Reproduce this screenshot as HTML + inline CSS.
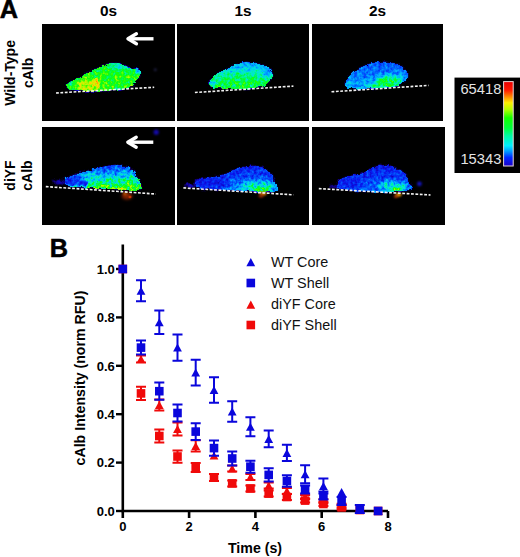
<!DOCTYPE html>
<html><head><meta charset="utf-8"><style>
html,body{margin:0;padding:0;background:#fff;width:520px;height:557px;overflow:hidden;}
svg{display:block;}
text{font-family:"Liberation Sans",sans-serif;}
.tk{font-size:13px;font-weight:bold;fill:#000;}
.ax{font-size:14.2px;font-weight:bold;fill:#000;}
.lg{font-size:14.4px;fill:#111;}
.hd{font-size:15.4px;font-weight:bold;fill:#000;}
.rl{font-size:14px;font-weight:bold;fill:#000;}
.big{font-size:25.3px;font-weight:bold;fill:#000;stroke:#000;stroke-width:0.5px;}
.cb{font-size:14.7px;fill:#e4e4e4;}
</style></head><body>
<svg width="520" height="557" viewBox="0 0 520 557">
<rect width="520" height="557" fill="#fff"/>
<text x="-0.3" y="17.6" class="big">A</text>
<text x="49.8" y="256.6" class="big">B</text>
<text x="108.5" y="16.2" text-anchor="middle" class="hd">0s</text>
<text x="243" y="16.2" text-anchor="middle" class="hd">1s</text>
<text x="377.5" y="16.2" text-anchor="middle" class="hd">2s</text>
<text transform="translate(14.6 72.9) rotate(-90)" text-anchor="middle" class="rl">Wild-Type</text>
<text transform="translate(32.6 72.9) rotate(-90)" text-anchor="middle" class="rl">cAlb</text>
<text transform="translate(14.5 175.5) rotate(-90)" text-anchor="middle" class="rl">diYF</text>
<text transform="translate(32.4 175.5) rotate(-90)" text-anchor="middle" class="rl">cAlb</text>
<rect x="42" y="24" width="132.1" height="96.5" fill="#000"/>
<rect x="177" y="24" width="131.8" height="96.5" fill="#000"/>
<rect x="312.1" y="24" width="130.9" height="96.5" fill="#000"/>
<rect x="42" y="127" width="133" height="97.5" fill="#000"/>
<rect x="177.3" y="127" width="131.5" height="97.5" fill="#000"/>
<rect x="312.1" y="127" width="132.5" height="97.5" fill="#000"/>
<filter id="b1" x="-20%" y="-50%" width="140%" height="200%"><feGaussianBlur stdDeviation="0.3"/></filter>
<filter id="fA1" filterUnits="userSpaceOnUse" x="42" y="24" width="132.1" height="96.5" color-interpolation-filters="sRGB">
<feTurbulence type="fractalNoise" baseFrequency="0.18" numOctaves="2" seed="23" result="dt"/>
<feDisplacementMap in="SourceGraphic" in2="dt" scale="4" xChannelSelector="R" yChannelSelector="G" result="src"/>
<feTurbulence type="fractalNoise" baseFrequency="0.33" numOctaves="2" seed="3" result="t"/>
<feColorMatrix in="t" type="matrix" values="1 0 0 0 0 1 0 0 0 0 1 0 0 0 0 0 0 0 0 1" result="n"/>
<feComposite in="src" in2="n" operator="arithmetic" k1="0.6" k2="0.7" k3="0" k4="0" result="m"/>
<feComponentTransfer in="m"><feFuncR type="table" tableValues="0.000 0.000 0.000 0.020 0.052 0.076 0.064 0.051 0.039 0.027 0.015 0.002 0.000 0.000 0.000 0.000 0.000 0.000 0.000 0.000 0.000 0.004 0.024 0.069 0.216 0.363 0.518 0.675 0.779 0.871 0.963 1.000 1.000 1.000 1.000 1.000 1.000 1.000 1.000 1.000 1.000"/><feFuncG type="table" tableValues="0.000 0.000 0.000 0.000 0.000 0.005 0.029 0.054 0.078 0.164 0.250 0.336 0.441 0.551 0.662 0.746 0.814 0.881 0.929 0.947 0.966 0.982 0.992 1.000 1.000 1.000 0.992 0.982 0.951 0.914 0.877 0.804 0.706 0.608 0.510 0.429 0.359 0.289 0.218 0.148 0.078"/><feFuncB type="table" tableValues="0.000 0.000 0.000 0.147 0.392 0.609 0.713 0.817 0.922 0.946 0.971 0.995 1.000 1.000 1.000 0.967 0.912 0.857 0.760 0.600 0.441 0.286 0.149 0.036 0.020 0.003 0.000 0.000 0.000 0.000 0.000 0.000 0.000 0.000 0.000 0.000 0.000 0.000 0.000 0.000 0.000"/><feFuncA type="linear" slope="0" intercept="1"/></feComponentTransfer>
<feGaussianBlur stdDeviation="0.6"/>
</filter>
<linearGradient id="gA1" gradientUnits="userSpaceOnUse" x1="0" y1="63" x2="0" y2="91"><stop offset="0.000" stop-color="rgb(142,142,142)"/><stop offset="1.000" stop-color="rgb(147,147,147)"/></linearGradient>
<clipPath id="cA1"><path d="M65.8 85.4 C66.2 84.6 68.1 83.6 70.1 82.5 C72.1 81.4 75.2 80.0 77.8 78.6 C80.4 77.2 82.9 75.7 85.5 74.3 C88.1 72.9 90.2 71.4 93.2 70.0 C96.2 68.6 100.4 67.1 103.4 66.0 C106.4 64.9 108.5 63.7 111.0 63.3 C113.5 62.9 116.1 63.0 118.7 63.5 C121.3 64.0 124.3 65.2 126.4 66.2 C128.5 67.2 129.9 68.9 131.5 69.3 C133.1 69.7 134.7 68.3 136.0 68.6 C137.3 68.9 138.9 69.8 139.5 71.0 C140.1 72.2 139.9 74.3 139.5 76.0 C139.1 77.7 138.2 79.4 137.0 81.0 C135.8 82.6 134.2 84.1 132.0 85.5 C129.8 86.9 127.7 88.7 124.0 89.6 C120.3 90.5 115.1 90.7 110.0 91.0 C104.9 91.3 99.0 91.3 93.2 91.2 C87.4 91.1 79.5 90.8 75.2 90.2 C70.9 89.6 69.2 88.4 67.6 87.6 C66.0 86.8 65.4 86.2 65.8 85.4Z"/></clipPath>
<g filter="url(#fA1)"><rect x="42" y="24" width="132.1" height="96.5" fill="#000"/>
<path d="M65.8 85.4 C66.2 84.6 68.1 83.6 70.1 82.5 C72.1 81.4 75.2 80.0 77.8 78.6 C80.4 77.2 82.9 75.7 85.5 74.3 C88.1 72.9 90.2 71.4 93.2 70.0 C96.2 68.6 100.4 67.1 103.4 66.0 C106.4 64.9 108.5 63.7 111.0 63.3 C113.5 62.9 116.1 63.0 118.7 63.5 C121.3 64.0 124.3 65.2 126.4 66.2 C128.5 67.2 129.9 68.9 131.5 69.3 C133.1 69.7 134.7 68.3 136.0 68.6 C137.3 68.9 138.9 69.8 139.5 71.0 C140.1 72.2 139.9 74.3 139.5 76.0 C139.1 77.7 138.2 79.4 137.0 81.0 C135.8 82.6 134.2 84.1 132.0 85.5 C129.8 86.9 127.7 88.7 124.0 89.6 C120.3 90.5 115.1 90.7 110.0 91.0 C104.9 91.3 99.0 91.3 93.2 91.2 C87.4 91.1 79.5 90.8 75.2 90.2 C70.9 89.6 69.2 88.4 67.6 87.6 C66.0 86.8 65.4 86.2 65.8 85.4Z" fill="rgb(33,33,33)" stroke="rgb(33,33,33)" stroke-width="2" style="filter:blur(1.6px)"/>
<path d="M65.8 85.4 C66.2 84.6 68.1 83.6 70.1 82.5 C72.1 81.4 75.2 80.0 77.8 78.6 C80.4 77.2 82.9 75.7 85.5 74.3 C88.1 72.9 90.2 71.4 93.2 70.0 C96.2 68.6 100.4 67.1 103.4 66.0 C106.4 64.9 108.5 63.7 111.0 63.3 C113.5 62.9 116.1 63.0 118.7 63.5 C121.3 64.0 124.3 65.2 126.4 66.2 C128.5 67.2 129.9 68.9 131.5 69.3 C133.1 69.7 134.7 68.3 136.0 68.6 C137.3 68.9 138.9 69.8 139.5 71.0 C140.1 72.2 139.9 74.3 139.5 76.0 C139.1 77.7 138.2 79.4 137.0 81.0 C135.8 82.6 134.2 84.1 132.0 85.5 C129.8 86.9 127.7 88.7 124.0 89.6 C120.3 90.5 115.1 90.7 110.0 91.0 C104.9 91.3 99.0 91.3 93.2 91.2 C87.4 91.1 79.5 90.8 75.2 90.2 C70.9 89.6 69.2 88.4 67.6 87.6 C66.0 86.8 65.4 86.2 65.8 85.4Z" fill="url(#gA1)" shape-rendering="crispEdges"/>
<g clip-path="url(#cA1)">
<ellipse cx="124" cy="66" rx="15" ry="3.5" fill="rgb(112,112,112)" style="filter:blur(2px)"/>
<ellipse cx="138" cy="71" rx="2.5" ry="2.5" fill="rgb(82,82,82)" style="filter:blur(1.2px)"/>
<ellipse cx="90" cy="85.5" rx="12" ry="4.5" fill="rgb(184,184,184)" style="filter:blur(2.5px)"/>
<ellipse cx="95.5" cy="81.5" rx="2" ry="2.5" fill="rgb(230,230,230)" style="filter:blur(1px)"/>
<ellipse cx="80" cy="87" rx="6" ry="2.5" fill="rgb(178,178,178)" style="filter:blur(2px)"/>
<ellipse cx="120" cy="90" rx="5" ry="1.5" fill="rgb(107,107,107)" style="filter:blur(1px)"/>
<ellipse cx="70" cy="83" rx="4" ry="3" fill="rgb(128,128,128)" style="filter:blur(1.5px)"/>
</g>
</g>
<filter id="fA2" filterUnits="userSpaceOnUse" x="177" y="24" width="131.8" height="96.5" color-interpolation-filters="sRGB">
<feTurbulence type="fractalNoise" baseFrequency="0.18" numOctaves="2" seed="27" result="dt"/>
<feDisplacementMap in="SourceGraphic" in2="dt" scale="4" xChannelSelector="R" yChannelSelector="G" result="src"/>
<feTurbulence type="fractalNoise" baseFrequency="0.33" numOctaves="2" seed="7" result="t"/>
<feColorMatrix in="t" type="matrix" values="1 0 0 0 0 1 0 0 0 0 1 0 0 0 0 0 0 0 0 1" result="n"/>
<feComposite in="src" in2="n" operator="arithmetic" k1="0.7" k2="0.65" k3="0" k4="0" result="m"/>
<feComponentTransfer in="m"><feFuncR type="table" tableValues="0.000 0.000 0.000 0.020 0.052 0.076 0.064 0.051 0.039 0.027 0.015 0.002 0.000 0.000 0.000 0.000 0.000 0.000 0.000 0.000 0.000 0.004 0.024 0.069 0.216 0.363 0.518 0.675 0.779 0.871 0.963 1.000 1.000 1.000 1.000 1.000 1.000 1.000 1.000 1.000 1.000"/><feFuncG type="table" tableValues="0.000 0.000 0.000 0.000 0.000 0.005 0.029 0.054 0.078 0.164 0.250 0.336 0.441 0.551 0.662 0.746 0.814 0.881 0.929 0.947 0.966 0.982 0.992 1.000 1.000 1.000 0.992 0.982 0.951 0.914 0.877 0.804 0.706 0.608 0.510 0.429 0.359 0.289 0.218 0.148 0.078"/><feFuncB type="table" tableValues="0.000 0.000 0.000 0.147 0.392 0.609 0.713 0.817 0.922 0.946 0.971 0.995 1.000 1.000 1.000 0.967 0.912 0.857 0.760 0.600 0.441 0.286 0.149 0.036 0.020 0.003 0.000 0.000 0.000 0.000 0.000 0.000 0.000 0.000 0.000 0.000 0.000 0.000 0.000 0.000 0.000"/><feFuncA type="linear" slope="0" intercept="1"/></feComponentTransfer>
<feGaussianBlur stdDeviation="0.6"/>
</filter>
<linearGradient id="gA2" gradientUnits="userSpaceOnUse" x1="0" y1="62" x2="0" y2="88"><stop offset="0.000" stop-color="rgb(84,84,84)"/><stop offset="0.308" stop-color="rgb(105,105,105)"/><stop offset="0.692" stop-color="rgb(128,128,128)"/><stop offset="1.000" stop-color="rgb(143,143,143)"/></linearGradient>
<clipPath id="cA2"><path d="M208.5 84.2 C208.5 82.9 210.6 80.8 212.3 79.0 C214.0 77.2 216.2 75.2 218.5 73.5 C220.8 71.8 223.4 70.2 226.2 68.8 C229.0 67.4 232.3 66.1 235.4 65.0 C238.5 63.9 241.5 62.6 244.6 62.2 C247.7 61.8 250.7 62.0 253.8 62.5 C256.9 63.0 260.8 64.8 263.1 65.5 C265.4 66.2 266.3 65.8 267.7 66.8 C269.1 67.8 270.6 69.8 271.5 71.5 C272.4 73.2 273.3 75.5 272.8 77.3 C272.3 79.0 270.4 80.4 268.5 82.0 C266.6 83.6 265.2 85.7 261.5 86.8 C257.8 87.9 252.6 88.5 246.2 88.8 C239.8 89.1 228.8 88.9 223.1 88.6 C217.4 88.3 214.7 87.7 212.3 87.0 C209.9 86.3 208.5 85.5 208.5 84.2Z"/></clipPath>
<g filter="url(#fA2)"><rect x="177" y="24" width="131.8" height="96.5" fill="#000"/>
<path d="M208.5 84.2 C208.5 82.9 210.6 80.8 212.3 79.0 C214.0 77.2 216.2 75.2 218.5 73.5 C220.8 71.8 223.4 70.2 226.2 68.8 C229.0 67.4 232.3 66.1 235.4 65.0 C238.5 63.9 241.5 62.6 244.6 62.2 C247.7 61.8 250.7 62.0 253.8 62.5 C256.9 63.0 260.8 64.8 263.1 65.5 C265.4 66.2 266.3 65.8 267.7 66.8 C269.1 67.8 270.6 69.8 271.5 71.5 C272.4 73.2 273.3 75.5 272.8 77.3 C272.3 79.0 270.4 80.4 268.5 82.0 C266.6 83.6 265.2 85.7 261.5 86.8 C257.8 87.9 252.6 88.5 246.2 88.8 C239.8 89.1 228.8 88.9 223.1 88.6 C217.4 88.3 214.7 87.7 212.3 87.0 C209.9 86.3 208.5 85.5 208.5 84.2Z" fill="rgb(33,33,33)" stroke="rgb(33,33,33)" stroke-width="2" style="filter:blur(1.6px)"/>
<path d="M208.5 84.2 C208.5 82.9 210.6 80.8 212.3 79.0 C214.0 77.2 216.2 75.2 218.5 73.5 C220.8 71.8 223.4 70.2 226.2 68.8 C229.0 67.4 232.3 66.1 235.4 65.0 C238.5 63.9 241.5 62.6 244.6 62.2 C247.7 61.8 250.7 62.0 253.8 62.5 C256.9 63.0 260.8 64.8 263.1 65.5 C265.4 66.2 266.3 65.8 267.7 66.8 C269.1 67.8 270.6 69.8 271.5 71.5 C272.4 73.2 273.3 75.5 272.8 77.3 C272.3 79.0 270.4 80.4 268.5 82.0 C266.6 83.6 265.2 85.7 261.5 86.8 C257.8 87.9 252.6 88.5 246.2 88.8 C239.8 89.1 228.8 88.9 223.1 88.6 C217.4 88.3 214.7 87.7 212.3 87.0 C209.9 86.3 208.5 85.5 208.5 84.2Z" fill="url(#gA2)" shape-rendering="crispEdges"/>
<g clip-path="url(#cA2)">
<ellipse cx="243" cy="82" rx="22" ry="6" fill="rgb(135,135,135)" style="filter:blur(3px)"/>
<ellipse cx="213" cy="83" rx="5" ry="3" fill="rgb(107,107,107)" style="filter:blur(1.5px)"/>
<ellipse cx="268" cy="72" rx="4" ry="5" fill="rgb(82,82,82)" style="filter:blur(2px)"/>
</g>
</g>
<filter id="fA3" filterUnits="userSpaceOnUse" x="312.1" y="24" width="130.9" height="96.5" color-interpolation-filters="sRGB">
<feTurbulence type="fractalNoise" baseFrequency="0.18" numOctaves="2" seed="31" result="dt"/>
<feDisplacementMap in="SourceGraphic" in2="dt" scale="4" xChannelSelector="R" yChannelSelector="G" result="src"/>
<feTurbulence type="fractalNoise" baseFrequency="0.33" numOctaves="2" seed="11" result="t"/>
<feColorMatrix in="t" type="matrix" values="1 0 0 0 0 1 0 0 0 0 1 0 0 0 0 0 0 0 0 1" result="n"/>
<feComposite in="src" in2="n" operator="arithmetic" k1="0.75" k2="0.625" k3="0" k4="0" result="m"/>
<feComponentTransfer in="m"><feFuncR type="table" tableValues="0.000 0.000 0.000 0.020 0.052 0.076 0.064 0.051 0.039 0.027 0.015 0.002 0.000 0.000 0.000 0.000 0.000 0.000 0.000 0.000 0.000 0.004 0.024 0.069 0.216 0.363 0.518 0.675 0.779 0.871 0.963 1.000 1.000 1.000 1.000 1.000 1.000 1.000 1.000 1.000 1.000"/><feFuncG type="table" tableValues="0.000 0.000 0.000 0.000 0.000 0.005 0.029 0.054 0.078 0.164 0.250 0.336 0.441 0.551 0.662 0.746 0.814 0.881 0.929 0.947 0.966 0.982 0.992 1.000 1.000 1.000 0.992 0.982 0.951 0.914 0.877 0.804 0.706 0.608 0.510 0.429 0.359 0.289 0.218 0.148 0.078"/><feFuncB type="table" tableValues="0.000 0.000 0.000 0.147 0.392 0.609 0.713 0.817 0.922 0.946 0.971 0.995 1.000 1.000 1.000 0.967 0.912 0.857 0.760 0.600 0.441 0.286 0.149 0.036 0.020 0.003 0.000 0.000 0.000 0.000 0.000 0.000 0.000 0.000 0.000 0.000 0.000 0.000 0.000 0.000 0.000"/><feFuncA type="linear" slope="0" intercept="1"/></feComponentTransfer>
<feGaussianBlur stdDeviation="0.6"/>
</filter>
<linearGradient id="gA3" gradientUnits="userSpaceOnUse" x1="0" y1="62" x2="0" y2="88"><stop offset="0.000" stop-color="rgb(69,69,69)"/><stop offset="0.500" stop-color="rgb(79,79,79)"/><stop offset="1.000" stop-color="rgb(92,92,92)"/></linearGradient>
<clipPath id="cA3"><path d="M345.0 82.7 C345.4 81.0 347.1 78.4 348.8 76.5 C350.5 74.6 352.7 72.9 355.0 71.2 C357.3 69.5 359.9 67.8 362.7 66.5 C365.5 65.2 368.8 64.3 371.9 63.5 C375.0 62.7 378.1 62.1 381.2 61.9 C384.3 61.7 387.3 61.9 390.4 62.4 C393.5 62.9 397.2 63.8 399.6 65.0 C402.0 66.2 403.7 67.9 405.0 69.6 C406.3 71.3 407.2 73.2 407.3 75.0 C407.4 76.8 406.8 78.9 405.8 80.4 C404.8 81.9 403.2 83.1 401.2 84.2 C399.1 85.3 398.1 86.1 393.5 86.8 C388.9 87.5 380.2 88.1 373.5 88.4 C366.8 88.7 358.0 88.7 353.5 88.4 C349.0 88.1 347.9 87.8 346.5 86.8 C345.1 85.8 344.6 84.4 345.0 82.7Z"/></clipPath>
<g filter="url(#fA3)"><rect x="312.1" y="24" width="130.9" height="96.5" fill="#000"/>
<path d="M345.0 82.7 C345.4 81.0 347.1 78.4 348.8 76.5 C350.5 74.6 352.7 72.9 355.0 71.2 C357.3 69.5 359.9 67.8 362.7 66.5 C365.5 65.2 368.8 64.3 371.9 63.5 C375.0 62.7 378.1 62.1 381.2 61.9 C384.3 61.7 387.3 61.9 390.4 62.4 C393.5 62.9 397.2 63.8 399.6 65.0 C402.0 66.2 403.7 67.9 405.0 69.6 C406.3 71.3 407.2 73.2 407.3 75.0 C407.4 76.8 406.8 78.9 405.8 80.4 C404.8 81.9 403.2 83.1 401.2 84.2 C399.1 85.3 398.1 86.1 393.5 86.8 C388.9 87.5 380.2 88.1 373.5 88.4 C366.8 88.7 358.0 88.7 353.5 88.4 C349.0 88.1 347.9 87.8 346.5 86.8 C345.1 85.8 344.6 84.4 345.0 82.7Z" fill="rgb(33,33,33)" stroke="rgb(33,33,33)" stroke-width="2" style="filter:blur(1.6px)"/>
<path d="M345.0 82.7 C345.4 81.0 347.1 78.4 348.8 76.5 C350.5 74.6 352.7 72.9 355.0 71.2 C357.3 69.5 359.9 67.8 362.7 66.5 C365.5 65.2 368.8 64.3 371.9 63.5 C375.0 62.7 378.1 62.1 381.2 61.9 C384.3 61.7 387.3 61.9 390.4 62.4 C393.5 62.9 397.2 63.8 399.6 65.0 C402.0 66.2 403.7 67.9 405.0 69.6 C406.3 71.3 407.2 73.2 407.3 75.0 C407.4 76.8 406.8 78.9 405.8 80.4 C404.8 81.9 403.2 83.1 401.2 84.2 C399.1 85.3 398.1 86.1 393.5 86.8 C388.9 87.5 380.2 88.1 373.5 88.4 C366.8 88.7 358.0 88.7 353.5 88.4 C349.0 88.1 347.9 87.8 346.5 86.8 C345.1 85.8 344.6 84.4 345.0 82.7Z" fill="url(#gA3)" shape-rendering="crispEdges"/>
<g clip-path="url(#cA3)">
<ellipse cx="388" cy="82" rx="13" ry="5.5" fill="rgb(143,143,143)" style="filter:blur(2px)"/>
<ellipse cx="377" cy="86" rx="10" ry="2.5" fill="rgb(128,128,128)" style="filter:blur(1.5px)"/>
<ellipse cx="398" cy="78" rx="5" ry="3" fill="rgb(115,115,115)" style="filter:blur(2px)"/>
</g>
</g>
<filter id="fB1" filterUnits="userSpaceOnUse" x="42" y="127" width="133" height="97.5" color-interpolation-filters="sRGB">
<feTurbulence type="fractalNoise" baseFrequency="0.18" numOctaves="2" seed="25" result="dt"/>
<feDisplacementMap in="SourceGraphic" in2="dt" scale="4" xChannelSelector="R" yChannelSelector="G" result="src"/>
<feTurbulence type="fractalNoise" baseFrequency="0.33" numOctaves="2" seed="5" result="t"/>
<feColorMatrix in="t" type="matrix" values="1 0 0 0 0 1 0 0 0 0 1 0 0 0 0 0 0 0 0 1" result="n"/>
<feComposite in="src" in2="n" operator="arithmetic" k1="1.0" k2="0.5" k3="0" k4="0" result="m"/>
<feComponentTransfer in="m"><feFuncR type="table" tableValues="0.000 0.000 0.000 0.020 0.052 0.076 0.064 0.051 0.039 0.027 0.015 0.002 0.000 0.000 0.000 0.000 0.000 0.000 0.000 0.000 0.000 0.004 0.024 0.069 0.216 0.363 0.518 0.675 0.779 0.871 0.963 1.000 1.000 1.000 1.000 1.000 1.000 1.000 1.000 1.000 1.000"/><feFuncG type="table" tableValues="0.000 0.000 0.000 0.000 0.000 0.005 0.029 0.054 0.078 0.164 0.250 0.336 0.441 0.551 0.662 0.746 0.814 0.881 0.929 0.947 0.966 0.982 0.992 1.000 1.000 1.000 0.992 0.982 0.951 0.914 0.877 0.804 0.706 0.608 0.510 0.429 0.359 0.289 0.218 0.148 0.078"/><feFuncB type="table" tableValues="0.000 0.000 0.000 0.147 0.392 0.609 0.713 0.817 0.922 0.946 0.971 0.995 1.000 1.000 1.000 0.967 0.912 0.857 0.760 0.600 0.441 0.286 0.149 0.036 0.020 0.003 0.000 0.000 0.000 0.000 0.000 0.000 0.000 0.000 0.000 0.000 0.000 0.000 0.000 0.000 0.000"/><feFuncA type="linear" slope="0" intercept="1"/></feComponentTransfer>
<feGaussianBlur stdDeviation="0.6"/>
</filter>
<linearGradient id="gB1" gradientUnits="userSpaceOnUse" x1="0" y1="166" x2="0" y2="189"><stop offset="0.000" stop-color="rgb(69,69,69)"/><stop offset="0.261" stop-color="rgb(87,87,87)"/><stop offset="0.609" stop-color="rgb(115,115,115)"/><stop offset="1.000" stop-color="rgb(153,153,153)"/></linearGradient>
<clipPath id="cB1"><path d="M65.5 178.5 C66.4 177.3 67.5 177.4 70.0 176.5 C72.5 175.6 76.5 174.2 80.4 173.0 C84.3 171.8 88.9 170.3 93.2 169.2 C97.5 168.1 101.8 167.0 106.0 166.3 C110.2 165.6 114.9 164.8 118.7 165.0 C122.5 165.2 126.2 166.0 129.0 167.5 C131.8 169.0 133.7 171.6 135.4 174.0 C137.1 176.4 138.1 179.5 139.2 182.0 C140.3 184.5 145.2 187.8 142.0 189.0 C138.8 190.2 128.7 189.7 120.0 189.5 C111.3 189.3 98.3 188.3 90.0 187.8 C81.7 187.3 74.2 187.2 70.0 186.5 C65.8 185.8 65.2 184.8 64.5 183.5 C63.8 182.2 64.6 179.7 65.5 178.5Z"/></clipPath>
<g filter="url(#fB1)"><rect x="42" y="127" width="133" height="97.5" fill="#000"/>
<path d="M65.5 178.5 C66.4 177.3 67.5 177.4 70.0 176.5 C72.5 175.6 76.5 174.2 80.4 173.0 C84.3 171.8 88.9 170.3 93.2 169.2 C97.5 168.1 101.8 167.0 106.0 166.3 C110.2 165.6 114.9 164.8 118.7 165.0 C122.5 165.2 126.2 166.0 129.0 167.5 C131.8 169.0 133.7 171.6 135.4 174.0 C137.1 176.4 138.1 179.5 139.2 182.0 C140.3 184.5 145.2 187.8 142.0 189.0 C138.8 190.2 128.7 189.7 120.0 189.5 C111.3 189.3 98.3 188.3 90.0 187.8 C81.7 187.3 74.2 187.2 70.0 186.5 C65.8 185.8 65.2 184.8 64.5 183.5 C63.8 182.2 64.6 179.7 65.5 178.5Z" fill="rgb(33,33,33)" stroke="rgb(33,33,33)" stroke-width="2" style="filter:blur(1.6px)"/>
<path d="M65.5 178.5 C66.4 177.3 67.5 177.4 70.0 176.5 C72.5 175.6 76.5 174.2 80.4 173.0 C84.3 171.8 88.9 170.3 93.2 169.2 C97.5 168.1 101.8 167.0 106.0 166.3 C110.2 165.6 114.9 164.8 118.7 165.0 C122.5 165.2 126.2 166.0 129.0 167.5 C131.8 169.0 133.7 171.6 135.4 174.0 C137.1 176.4 138.1 179.5 139.2 182.0 C140.3 184.5 145.2 187.8 142.0 189.0 C138.8 190.2 128.7 189.7 120.0 189.5 C111.3 189.3 98.3 188.3 90.0 187.8 C81.7 187.3 74.2 187.2 70.0 186.5 C65.8 185.8 65.2 184.8 64.5 183.5 C63.8 182.2 64.6 179.7 65.5 178.5Z" fill="url(#gB1)" shape-rendering="crispEdges"/>
<g clip-path="url(#cB1)">
<ellipse cx="72" cy="181" rx="12" ry="6" fill="rgb(56,56,56)" style="filter:blur(2.5px)"/>
<ellipse cx="84" cy="183" rx="4" ry="3" fill="rgb(51,51,51)" style="filter:blur(1.5px)"/>
<ellipse cx="130" cy="184" rx="8" ry="4" fill="rgb(140,140,140)" style="filter:blur(2px)"/>
<ellipse cx="108" cy="168" rx="12" ry="3" fill="rgb(66,66,66)" style="filter:blur(2px)"/>
</g>
<ellipse cx="58" cy="182" rx="7" ry="3" fill="rgb(43,43,43)" style="filter:blur(2px)"/>
</g>
<filter id="fB2" filterUnits="userSpaceOnUse" x="177.3" y="127" width="131.5" height="97.5" color-interpolation-filters="sRGB">
<feTurbulence type="fractalNoise" baseFrequency="0.18" numOctaves="2" seed="29" result="dt"/>
<feDisplacementMap in="SourceGraphic" in2="dt" scale="4" xChannelSelector="R" yChannelSelector="G" result="src"/>
<feTurbulence type="fractalNoise" baseFrequency="0.33" numOctaves="2" seed="9" result="t"/>
<feColorMatrix in="t" type="matrix" values="1 0 0 0 0 1 0 0 0 0 1 0 0 0 0 0 0 0 0 1" result="n"/>
<feComposite in="src" in2="n" operator="arithmetic" k1="1.0" k2="0.5" k3="0" k4="0" result="m"/>
<feComponentTransfer in="m"><feFuncR type="table" tableValues="0.000 0.000 0.000 0.020 0.052 0.076 0.064 0.051 0.039 0.027 0.015 0.002 0.000 0.000 0.000 0.000 0.000 0.000 0.000 0.000 0.000 0.004 0.024 0.069 0.216 0.363 0.518 0.675 0.779 0.871 0.963 1.000 1.000 1.000 1.000 1.000 1.000 1.000 1.000 1.000 1.000"/><feFuncG type="table" tableValues="0.000 0.000 0.000 0.000 0.000 0.005 0.029 0.054 0.078 0.164 0.250 0.336 0.441 0.551 0.662 0.746 0.814 0.881 0.929 0.947 0.966 0.982 0.992 1.000 1.000 1.000 0.992 0.982 0.951 0.914 0.877 0.804 0.706 0.608 0.510 0.429 0.359 0.289 0.218 0.148 0.078"/><feFuncB type="table" tableValues="0.000 0.000 0.000 0.147 0.392 0.609 0.713 0.817 0.922 0.946 0.971 0.995 1.000 1.000 1.000 0.967 0.912 0.857 0.760 0.600 0.441 0.286 0.149 0.036 0.020 0.003 0.000 0.000 0.000 0.000 0.000 0.000 0.000 0.000 0.000 0.000 0.000 0.000 0.000 0.000 0.000"/><feFuncA type="linear" slope="0" intercept="1"/></feComponentTransfer>
<feGaussianBlur stdDeviation="0.6"/>
</filter>
<linearGradient id="gB2" gradientUnits="userSpaceOnUse" x1="0" y1="166" x2="0" y2="190"><stop offset="0.000" stop-color="rgb(54,54,54)"/><stop offset="0.500" stop-color="rgb(66,66,66)"/><stop offset="1.000" stop-color="rgb(87,87,87)"/></linearGradient>
<clipPath id="cB2"><path d="M196.0 182.0 C196.0 180.5 198.2 180.1 200.0 179.5 C201.8 178.9 203.9 178.9 207.0 178.3 C210.1 177.7 214.7 177.0 218.5 176.0 C222.3 175.0 226.8 173.7 230.0 172.5 C233.2 171.3 235.1 170.1 238.0 169.0 C240.9 167.9 244.2 166.7 247.3 166.2 C250.5 165.7 253.7 165.5 256.9 166.0 C260.1 166.5 263.9 167.7 266.5 169.4 C269.1 171.1 270.7 173.5 272.3 176.2 C273.9 178.9 275.6 183.4 276.2 185.8 C276.8 188.2 280.2 189.9 275.8 190.8 C271.4 191.7 259.3 191.4 250.0 191.2 C240.7 191.0 228.3 189.9 220.0 189.5 C211.7 189.1 204.0 189.8 200.0 188.5 C196.0 187.2 196.0 183.5 196.0 182.0Z"/></clipPath>
<g filter="url(#fB2)"><rect x="177.3" y="127" width="131.5" height="97.5" fill="#000"/>
<path d="M196.0 182.0 C196.0 180.5 198.2 180.1 200.0 179.5 C201.8 178.9 203.9 178.9 207.0 178.3 C210.1 177.7 214.7 177.0 218.5 176.0 C222.3 175.0 226.8 173.7 230.0 172.5 C233.2 171.3 235.1 170.1 238.0 169.0 C240.9 167.9 244.2 166.7 247.3 166.2 C250.5 165.7 253.7 165.5 256.9 166.0 C260.1 166.5 263.9 167.7 266.5 169.4 C269.1 171.1 270.7 173.5 272.3 176.2 C273.9 178.9 275.6 183.4 276.2 185.8 C276.8 188.2 280.2 189.9 275.8 190.8 C271.4 191.7 259.3 191.4 250.0 191.2 C240.7 191.0 228.3 189.9 220.0 189.5 C211.7 189.1 204.0 189.8 200.0 188.5 C196.0 187.2 196.0 183.5 196.0 182.0Z" fill="rgb(33,33,33)" stroke="rgb(33,33,33)" stroke-width="2" style="filter:blur(1.6px)"/>
<path d="M196.0 182.0 C196.0 180.5 198.2 180.1 200.0 179.5 C201.8 178.9 203.9 178.9 207.0 178.3 C210.1 177.7 214.7 177.0 218.5 176.0 C222.3 175.0 226.8 173.7 230.0 172.5 C233.2 171.3 235.1 170.1 238.0 169.0 C240.9 167.9 244.2 166.7 247.3 166.2 C250.5 165.7 253.7 165.5 256.9 166.0 C260.1 166.5 263.9 167.7 266.5 169.4 C269.1 171.1 270.7 173.5 272.3 176.2 C273.9 178.9 275.6 183.4 276.2 185.8 C276.8 188.2 280.2 189.9 275.8 190.8 C271.4 191.7 259.3 191.4 250.0 191.2 C240.7 191.0 228.3 189.9 220.0 189.5 C211.7 189.1 204.0 189.8 200.0 188.5 C196.0 187.2 196.0 183.5 196.0 182.0Z" fill="url(#gB2)" shape-rendering="crispEdges"/>
<g clip-path="url(#cB2)">
<ellipse cx="212" cy="184" rx="18" ry="7" fill="rgb(51,51,51)" style="filter:blur(3px)"/>
<ellipse cx="258" cy="186" rx="17" ry="4.5" fill="rgb(115,115,115)" style="filter:blur(2.5px)"/>
<ellipse cx="261" cy="189.5" rx="10" ry="2" fill="rgb(148,148,148)" style="filter:blur(1.5px)"/>
</g>
<ellipse cx="190" cy="185.5" rx="7" ry="2.5" fill="rgb(41,41,41)" style="filter:blur(1.5px)"/>
<ellipse cx="197.5" cy="180.5" rx="3" ry="2.5" fill="rgb(51,51,51)" style="filter:blur(1px)"/>
</g>
<filter id="fB3" filterUnits="userSpaceOnUse" x="312.1" y="127" width="132.5" height="97.5" color-interpolation-filters="sRGB">
<feTurbulence type="fractalNoise" baseFrequency="0.18" numOctaves="2" seed="33" result="dt"/>
<feDisplacementMap in="SourceGraphic" in2="dt" scale="4" xChannelSelector="R" yChannelSelector="G" result="src"/>
<feTurbulence type="fractalNoise" baseFrequency="0.33" numOctaves="2" seed="13" result="t"/>
<feColorMatrix in="t" type="matrix" values="1 0 0 0 0 1 0 0 0 0 1 0 0 0 0 0 0 0 0 1" result="n"/>
<feComposite in="src" in2="n" operator="arithmetic" k1="1.0" k2="0.5" k3="0" k4="0" result="m"/>
<feComponentTransfer in="m"><feFuncR type="table" tableValues="0.000 0.000 0.000 0.020 0.052 0.076 0.064 0.051 0.039 0.027 0.015 0.002 0.000 0.000 0.000 0.000 0.000 0.000 0.000 0.000 0.000 0.004 0.024 0.069 0.216 0.363 0.518 0.675 0.779 0.871 0.963 1.000 1.000 1.000 1.000 1.000 1.000 1.000 1.000 1.000 1.000"/><feFuncG type="table" tableValues="0.000 0.000 0.000 0.000 0.000 0.005 0.029 0.054 0.078 0.164 0.250 0.336 0.441 0.551 0.662 0.746 0.814 0.881 0.929 0.947 0.966 0.982 0.992 1.000 1.000 1.000 0.992 0.982 0.951 0.914 0.877 0.804 0.706 0.608 0.510 0.429 0.359 0.289 0.218 0.148 0.078"/><feFuncB type="table" tableValues="0.000 0.000 0.000 0.147 0.392 0.609 0.713 0.817 0.922 0.946 0.971 0.995 1.000 1.000 1.000 0.967 0.912 0.857 0.760 0.600 0.441 0.286 0.149 0.036 0.020 0.003 0.000 0.000 0.000 0.000 0.000 0.000 0.000 0.000 0.000 0.000 0.000 0.000 0.000 0.000 0.000"/><feFuncA type="linear" slope="0" intercept="1"/></feComponentTransfer>
<feGaussianBlur stdDeviation="0.6"/>
</filter>
<linearGradient id="gB3" gradientUnits="userSpaceOnUse" x1="0" y1="165" x2="0" y2="191"><stop offset="0.000" stop-color="rgb(51,51,51)"/><stop offset="0.500" stop-color="rgb(62,62,62)"/><stop offset="1.000" stop-color="rgb(76,76,76)"/></linearGradient>
<clipPath id="cB3"><path d="M337.7 183.8 C338.3 182.3 339.6 180.3 341.5 179.0 C343.4 177.7 346.3 177.0 349.2 176.2 C352.1 175.4 355.6 175.2 358.8 174.2 C362.0 173.2 365.6 171.7 368.5 170.4 C371.4 169.1 373.0 167.3 376.2 166.5 C379.4 165.7 384.2 165.0 387.7 165.3 C391.2 165.6 394.4 167.0 397.3 168.5 C400.2 170.0 403.1 172.0 405.0 174.2 C406.9 176.4 408.0 179.3 408.8 181.9 C409.6 184.5 414.6 188.3 409.8 190.0 C405.0 191.7 390.0 191.9 380.0 192.0 C370.0 192.1 357.0 191.2 350.0 190.5 C343.0 189.8 340.1 189.1 338.0 188.0 C335.9 186.9 337.1 185.3 337.7 183.8Z"/></clipPath>
<g filter="url(#fB3)"><rect x="312.1" y="127" width="132.5" height="97.5" fill="#000"/>
<path d="M337.7 183.8 C338.3 182.3 339.6 180.3 341.5 179.0 C343.4 177.7 346.3 177.0 349.2 176.2 C352.1 175.4 355.6 175.2 358.8 174.2 C362.0 173.2 365.6 171.7 368.5 170.4 C371.4 169.1 373.0 167.3 376.2 166.5 C379.4 165.7 384.2 165.0 387.7 165.3 C391.2 165.6 394.4 167.0 397.3 168.5 C400.2 170.0 403.1 172.0 405.0 174.2 C406.9 176.4 408.0 179.3 408.8 181.9 C409.6 184.5 414.6 188.3 409.8 190.0 C405.0 191.7 390.0 191.9 380.0 192.0 C370.0 192.1 357.0 191.2 350.0 190.5 C343.0 189.8 340.1 189.1 338.0 188.0 C335.9 186.9 337.1 185.3 337.7 183.8Z" fill="rgb(33,33,33)" stroke="rgb(33,33,33)" stroke-width="2" style="filter:blur(1.6px)"/>
<path d="M337.7 183.8 C338.3 182.3 339.6 180.3 341.5 179.0 C343.4 177.7 346.3 177.0 349.2 176.2 C352.1 175.4 355.6 175.2 358.8 174.2 C362.0 173.2 365.6 171.7 368.5 170.4 C371.4 169.1 373.0 167.3 376.2 166.5 C379.4 165.7 384.2 165.0 387.7 165.3 C391.2 165.6 394.4 167.0 397.3 168.5 C400.2 170.0 403.1 172.0 405.0 174.2 C406.9 176.4 408.0 179.3 408.8 181.9 C409.6 184.5 414.6 188.3 409.8 190.0 C405.0 191.7 390.0 191.9 380.0 192.0 C370.0 192.1 357.0 191.2 350.0 190.5 C343.0 189.8 340.1 189.1 338.0 188.0 C335.9 186.9 337.1 185.3 337.7 183.8Z" fill="url(#gB3)" shape-rendering="crispEdges"/>
<g clip-path="url(#cB3)">
<ellipse cx="393" cy="186" rx="15" ry="5" fill="rgb(107,107,107)" style="filter:blur(2.5px)"/>
<ellipse cx="396" cy="189.5" rx="8" ry="2.2" fill="rgb(140,140,140)" style="filter:blur(1.5px)"/>
<ellipse cx="350" cy="184" rx="12" ry="6" fill="rgb(51,51,51)" style="filter:blur(3px)"/>
</g>
<ellipse cx="333" cy="186.5" rx="5" ry="2" fill="rgb(38,38,38)" style="filter:blur(1.5px)"/>
</g>
<ellipse cx="419.4" cy="183.8" rx="2.4" ry="2.4" fill="rgb(20,20,190)" style="filter:blur(0.9px)"/>
<ellipse cx="155.3" cy="69.8" rx="1.3" ry="1.3" fill="rgb(40,40,85)" style="filter:blur(0.8px)"/>
<ellipse cx="156.2" cy="132.2" rx="2.6" ry="2.6" fill="rgb(20,10,170)" style="filter:blur(0.9px)"/>
<ellipse cx="127" cy="196" rx="5.5" ry="3.5" fill="rgb(130,35,0)" style="filter:blur(1.8px)"/>
<ellipse cx="125" cy="193.5" rx="2" ry="1.3" fill="rgb(220,100,0)" style="filter:blur(0.8px)"/>
<ellipse cx="130" cy="197" rx="1.5" ry="1.2" fill="rgb(200,50,0)" style="filter:blur(0.7px)"/>
<ellipse cx="263" cy="193.5" rx="3.5" ry="2" fill="rgb(220,130,0)" style="filter:blur(1.2px)"/>
<ellipse cx="261" cy="196" rx="2.5" ry="1.5" fill="rgb(160,40,0)" style="filter:blur(1px)"/>
<ellipse cx="398.5" cy="194.8" rx="3" ry="1.8" fill="rgb(240,160,0)" style="filter:blur(1px)"/>
<ellipse cx="396" cy="196.5" rx="2.2" ry="1.3" fill="rgb(190,60,0)" style="filter:blur(0.8px)"/>
<path d="M56 93L154.2 87.3" stroke="#f2f2f2" stroke-width="1.6" stroke-dasharray="2.8 1.6" fill="none"/>
<path d="M194.9 92.5L293.4 86.1" stroke="#f2f2f2" stroke-width="1.6" stroke-dasharray="2.8 1.6" fill="none"/>
<path d="M331.5 91.8L428.6 85.4" stroke="#f2f2f2" stroke-width="1.6" stroke-dasharray="2.8 1.6" fill="none"/>
<path d="M45.8 186.6L155.8 194" stroke="#f2f2f2" stroke-width="1.6" stroke-dasharray="2.8 1.6" fill="none"/>
<path d="M183.4 187.9L293.4 194.8" stroke="#f2f2f2" stroke-width="1.6" stroke-dasharray="2.8 1.6" fill="none"/>
<path d="M318.8 188.6L430.5 195" stroke="#f2f2f2" stroke-width="1.6" stroke-dasharray="2.8 1.6" fill="none"/>
<path d="M128.3 38.8H153.5" stroke="#fff" stroke-width="3.4" fill="none"/>
<path d="M136.4 33.8L128.0 38.8L136.4 43.8" stroke="#fff" stroke-width="3.4" stroke-linejoin="round" stroke-linecap="round" fill="none"/>
<path d="M128.1 142.2H153.29999999999998" stroke="#fff" stroke-width="3.4" fill="none"/>
<path d="M136.2 137.2L127.8 142.2L136.2 147.2" stroke="#fff" stroke-width="3.4" stroke-linejoin="round" stroke-linecap="round" fill="none"/>
<!-- colorbar -->
<rect x="454.5" y="77.6" width="65.5" height="95.4" fill="#000"/>
<defs><linearGradient id="cbg" x1="0" y1="0" x2="0" y2="1">
<stop offset="0" stop-color="rgb(235,0,0)"/><stop offset="0.1" stop-color="rgb(255,25,0)"/><stop offset="0.16" stop-color="rgb(255,110,0)"/><stop offset="0.25" stop-color="rgb(255,240,0)"/><stop offset="0.33" stop-color="rgb(180,255,0)"/><stop offset="0.43" stop-color="rgb(20,255,0)"/><stop offset="0.55" stop-color="rgb(0,255,60)"/><stop offset="0.64" stop-color="rgb(0,250,160)"/><stop offset="0.76" stop-color="rgb(0,240,255)"/><stop offset="0.83" stop-color="rgb(0,150,255)"/><stop offset="0.9" stop-color="rgb(0,40,255)"/><stop offset="1" stop-color="rgb(30,0,200)"/>
</linearGradient></defs>
<rect x="503.6" y="81.6" width="9.6" height="84.4" fill="url(#cbg)" stroke="#e6d6d6" stroke-width="1"/>
<text x="501.3" y="94.4" text-anchor="end" class="cb">65418</text>
<text x="501.3" y="163.8" text-anchor="end" class="cb">15343</text>
<path d="M122.8 244.5V511.0H388" stroke="#000" stroke-width="2.6" fill="none"/>
<path d="M116 511.0H122.8" stroke="#000" stroke-width="2.4"/>
<text x="114.8" y="515.7" text-anchor="end" class="tk">0.0</text>
<path d="M116 462.6H122.8" stroke="#000" stroke-width="2.4"/>
<text x="114.8" y="467.3" text-anchor="end" class="tk">0.2</text>
<path d="M116 414.2H122.8" stroke="#000" stroke-width="2.4"/>
<text x="114.8" y="418.9" text-anchor="end" class="tk">0.4</text>
<path d="M116 365.8H122.8" stroke="#000" stroke-width="2.4"/>
<text x="114.8" y="370.5" text-anchor="end" class="tk">0.6</text>
<path d="M116 317.4H122.8" stroke="#000" stroke-width="2.4"/>
<text x="114.8" y="322.1" text-anchor="end" class="tk">0.8</text>
<path d="M116 269.0H122.8" stroke="#000" stroke-width="2.4"/>
<text x="114.8" y="273.7" text-anchor="end" class="tk">1.0</text>
<path d="M122.8 511.0V518" stroke="#000" stroke-width="2.6"/>
<text x="122.8" y="531" text-anchor="middle" class="tk">0</text>
<path d="M189.1 511.0V518" stroke="#000" stroke-width="2.6"/>
<text x="189.1" y="531" text-anchor="middle" class="tk">2</text>
<path d="M255.4 511.0V518" stroke="#000" stroke-width="2.6"/>
<text x="255.4" y="531" text-anchor="middle" class="tk">4</text>
<path d="M321.7 511.0V518" stroke="#000" stroke-width="2.6"/>
<text x="321.7" y="531" text-anchor="middle" class="tk">6</text>
<path d="M388.0 511.0V518" stroke="#000" stroke-width="2.6"/>
<text x="388.0" y="531" text-anchor="middle" class="tk">8</text>
<text x="255" y="552.5" text-anchor="middle" class="ax">Time (s)</text>
<text transform="translate(84.6 378) rotate(-90)" text-anchor="middle" class="ax">cAlb Intensity (norm RFU)</text>
<rect x="118.5" y="264.7" width="8.6" height="8.6" fill="#f00a0a"/>
<path d="M141.0 386.8V400.0M136.0 386.8H146.0M136.0 400.0H146.0" stroke="#f00a0a" stroke-width="2" fill="none"/>
<rect x="136.7" y="389.1" width="8.6" height="8.6" fill="#f00a0a"/>
<path d="M159.3 429.6V442.4M154.3 429.6H164.3M154.3 442.4H164.3" stroke="#f00a0a" stroke-width="2" fill="none"/>
<rect x="155.0" y="431.7" width="8.6" height="8.6" fill="#f00a0a"/>
<path d="M177.5 450.4V462.8M172.5 450.4H182.5M172.5 462.8H182.5" stroke="#f00a0a" stroke-width="2" fill="none"/>
<rect x="173.2" y="452.2" width="8.6" height="8.6" fill="#f00a0a"/>
<path d="M195.7 462.9V471.9M190.7 462.9H200.7M190.7 471.9H200.7" stroke="#f00a0a" stroke-width="2" fill="none"/>
<rect x="191.4" y="463.1" width="8.6" height="8.6" fill="#f00a0a"/>
<path d="M214.0 474.1V481.1M209.0 474.1H219.0M209.0 481.1H219.0" stroke="#f00a0a" stroke-width="2" fill="none"/>
<rect x="209.7" y="473.3" width="8.6" height="8.6" fill="#f00a0a"/>
<path d="M232.2 480.4V486.4M227.2 480.4H237.2M227.2 486.4H237.2" stroke="#f00a0a" stroke-width="2" fill="none"/>
<rect x="227.9" y="479.1" width="8.6" height="8.6" fill="#f00a0a"/>
<path d="M250.4 485.5V491.5M245.4 485.5H255.4M245.4 491.5H255.4" stroke="#f00a0a" stroke-width="2" fill="none"/>
<rect x="246.1" y="484.2" width="8.6" height="8.6" fill="#f00a0a"/>
<path d="M268.7 490.6V496.6M263.7 490.6H273.7M263.7 496.6H273.7" stroke="#f00a0a" stroke-width="2" fill="none"/>
<rect x="264.4" y="489.3" width="8.6" height="8.6" fill="#f00a0a"/>
<path d="M286.9 494.0V500.0M281.9 494.0H291.9M281.9 500.0H291.9" stroke="#f00a0a" stroke-width="2" fill="none"/>
<rect x="282.6" y="492.7" width="8.6" height="8.6" fill="#f00a0a"/>
<path d="M305.1 498.6V502.6M300.1 498.6H310.1M300.1 502.6H310.1" stroke="#f00a0a" stroke-width="2" fill="none"/>
<rect x="300.8" y="496.3" width="8.6" height="8.6" fill="#f00a0a"/>
<path d="M323.4 502.0V506.0M318.4 502.0H328.4M318.4 506.0H328.4" stroke="#f00a0a" stroke-width="2" fill="none"/>
<rect x="319.1" y="499.7" width="8.6" height="8.6" fill="#f00a0a"/>
<path d="M341.6 505.4V509.4M336.6 505.4H346.6M336.6 509.4H346.6" stroke="#f00a0a" stroke-width="2" fill="none"/>
<rect x="337.3" y="503.1" width="8.6" height="8.6" fill="#f00a0a"/>
<rect x="355.5" y="505.7" width="8.6" height="8.6" fill="#f00a0a"/>
<rect x="373.8" y="506.7" width="8.6" height="8.6" fill="#f00a0a"/>
<path d="M122.8 265.0L127.2 273.0L118.4 273.0Z" fill="#f00a0a"/>
<path d="M141.0 355.6V362.4M136.0 355.6H146.0M136.0 362.4H146.0" stroke="#f00a0a" stroke-width="2" fill="none"/>
<path d="M141.0 355.0L145.4 363.0L136.6 363.0Z" fill="#f00a0a"/>
<path d="M159.3 399.6V410.4M154.3 399.6H164.3M154.3 410.4H164.3" stroke="#f00a0a" stroke-width="2" fill="none"/>
<path d="M159.3 401.0L163.7 409.0L154.9 409.0Z" fill="#f00a0a"/>
<path d="M177.5 422.6V435.4M172.5 422.6H182.5M172.5 435.4H182.5" stroke="#f00a0a" stroke-width="2" fill="none"/>
<path d="M177.5 425.0L181.9 433.0L173.1 433.0Z" fill="#f00a0a"/>
<path d="M195.7 440.2V451.6M190.7 440.2H200.7M190.7 451.6H200.7" stroke="#f00a0a" stroke-width="2" fill="none"/>
<path d="M195.7 441.9L200.1 449.9L191.3 449.9Z" fill="#f00a0a"/>
<path d="M214.0 451.6L218.4 459.6L209.6 459.6Z" fill="#f00a0a"/>
<path d="M232.2 465.4V471.4M227.2 465.4H237.2M227.2 471.4H237.2" stroke="#f00a0a" stroke-width="2" fill="none"/>
<path d="M232.2 464.4L236.6 472.4L227.8 472.4Z" fill="#f00a0a"/>
<path d="M250.4 474.1V480.1M245.4 474.1H255.4M245.4 480.1H255.4" stroke="#f00a0a" stroke-width="2" fill="none"/>
<path d="M250.4 473.1L254.8 481.1L246.0 481.1Z" fill="#f00a0a"/>
<path d="M268.7 482.6V488.6M263.7 482.6H273.7M263.7 488.6H273.7" stroke="#f00a0a" stroke-width="2" fill="none"/>
<path d="M268.7 481.6L273.1 489.6L264.3 489.6Z" fill="#f00a0a"/>
<path d="M286.9 487.9V493.9M281.9 487.9H291.9M281.9 493.9H291.9" stroke="#f00a0a" stroke-width="2" fill="none"/>
<path d="M286.9 486.9L291.3 494.9L282.5 494.9Z" fill="#f00a0a"/>
<path d="M305.1 495.0V499.0M300.1 495.0H310.1M300.1 499.0H310.1" stroke="#f00a0a" stroke-width="2" fill="none"/>
<path d="M305.1 493.0L309.5 501.0L300.7 501.0Z" fill="#f00a0a"/>
<path d="M323.4 499.3V503.3M318.4 499.3H328.4M318.4 503.3H328.4" stroke="#f00a0a" stroke-width="2" fill="none"/>
<path d="M323.4 497.3L327.8 505.3L319.0 505.3Z" fill="#f00a0a"/>
<path d="M341.6 503.7V507.7M336.6 503.7H346.6M336.6 507.7H346.6" stroke="#f00a0a" stroke-width="2" fill="none"/>
<path d="M341.6 501.7L346.0 509.7L337.2 509.7Z" fill="#f00a0a"/>
<path d="M359.8 505.1L364.2 513.1L355.4 513.1Z" fill="#f00a0a"/>
<path d="M378.1 507.0L382.5 515.0L373.7 515.0Z" fill="#f00a0a"/>
<rect x="118.5" y="264.7" width="8.6" height="8.6" fill="#0a06dc"/>
<path d="M141.0 340.6V354.6M136.0 340.6H146.0M136.0 354.6H146.0" stroke="#0a06dc" stroke-width="2" fill="none"/>
<rect x="136.7" y="343.3" width="8.6" height="8.6" fill="#0a06dc"/>
<path d="M159.3 382.6V399.8M154.3 382.6H164.3M154.3 399.8H164.3" stroke="#0a06dc" stroke-width="2" fill="none"/>
<rect x="155.0" y="386.9" width="8.6" height="8.6" fill="#0a06dc"/>
<path d="M177.5 404.4V421.6M172.5 404.4H182.5M172.5 421.6H182.5" stroke="#0a06dc" stroke-width="2" fill="none"/>
<rect x="173.2" y="408.7" width="8.6" height="8.6" fill="#0a06dc"/>
<path d="M195.7 423.3V439.9M190.7 423.3H200.7M190.7 439.9H200.7" stroke="#0a06dc" stroke-width="2" fill="none"/>
<rect x="191.4" y="427.3" width="8.6" height="8.6" fill="#0a06dc"/>
<path d="M214.0 440.4V455.8M209.0 440.4H219.0M209.0 455.8H219.0" stroke="#0a06dc" stroke-width="2" fill="none"/>
<rect x="209.7" y="443.8" width="8.6" height="8.6" fill="#0a06dc"/>
<path d="M232.2 451.5V465.5M227.2 451.5H237.2M227.2 465.5H237.2" stroke="#0a06dc" stroke-width="2" fill="none"/>
<rect x="227.9" y="454.2" width="8.6" height="8.6" fill="#0a06dc"/>
<path d="M250.4 460.7V472.7M245.4 460.7H255.4M245.4 472.7H255.4" stroke="#0a06dc" stroke-width="2" fill="none"/>
<rect x="246.1" y="462.4" width="8.6" height="8.6" fill="#0a06dc"/>
<path d="M268.7 468.3V481.5M263.7 468.3H273.7M263.7 481.5H273.7" stroke="#0a06dc" stroke-width="2" fill="none"/>
<rect x="264.4" y="470.6" width="8.6" height="8.6" fill="#0a06dc"/>
<path d="M286.9 475.3V486.7M281.9 475.3H291.9M281.9 486.7H291.9" stroke="#0a06dc" stroke-width="2" fill="none"/>
<rect x="282.6" y="476.7" width="8.6" height="8.6" fill="#0a06dc"/>
<path d="M305.1 485.5V493.5M300.1 485.5H310.1M300.1 493.5H310.1" stroke="#0a06dc" stroke-width="2" fill="none"/>
<rect x="300.8" y="485.2" width="8.6" height="8.6" fill="#0a06dc"/>
<path d="M323.4 491.5V499.5M318.4 491.5H328.4M318.4 499.5H328.4" stroke="#0a06dc" stroke-width="2" fill="none"/>
<rect x="319.1" y="491.2" width="8.6" height="8.6" fill="#0a06dc"/>
<path d="M341.6 497.1V505.1M336.6 497.1H346.6M336.6 505.1H346.6" stroke="#0a06dc" stroke-width="2" fill="none"/>
<rect x="337.3" y="496.8" width="8.6" height="8.6" fill="#0a06dc"/>
<path d="M359.8 505.1V513.1M354.8 505.1H364.8M354.8 513.1H364.8" stroke="#0a06dc" stroke-width="2" fill="none"/>
<rect x="355.5" y="504.8" width="8.6" height="8.6" fill="#0a06dc"/>
<rect x="373.8" y="506.7" width="8.6" height="8.6" fill="#0a06dc"/>
<path d="M122.8 265.0L127.2 273.0L118.4 273.0Z" fill="#0a06dc"/>
<path d="M141.0 280.3V301.3M136.0 280.3H146.0M136.0 301.3H146.0" stroke="#0a06dc" stroke-width="2" fill="none"/>
<path d="M141.0 286.8L145.4 294.8L136.6 294.8Z" fill="#0a06dc"/>
<path d="M159.3 310.4V334.0M154.3 310.4H164.3M154.3 334.0H164.3" stroke="#0a06dc" stroke-width="2" fill="none"/>
<path d="M159.3 318.2L163.7 326.2L154.9 326.2Z" fill="#0a06dc"/>
<path d="M177.5 334.4V360.8M172.5 334.4H182.5M172.5 360.8H182.5" stroke="#0a06dc" stroke-width="2" fill="none"/>
<path d="M177.5 343.6L181.9 351.6L173.1 351.6Z" fill="#0a06dc"/>
<path d="M195.7 359.8V385.4M190.7 359.8H200.7M190.7 385.4H200.7" stroke="#0a06dc" stroke-width="2" fill="none"/>
<path d="M195.7 368.6L200.1 376.6L191.3 376.6Z" fill="#0a06dc"/>
<path d="M214.0 377.2V402.8M209.0 377.2H219.0M209.0 402.8H219.0" stroke="#0a06dc" stroke-width="2" fill="none"/>
<path d="M214.0 386.0L218.4 394.0L209.6 394.0Z" fill="#0a06dc"/>
<path d="M232.2 401.3V421.8M227.2 401.3H237.2M227.2 421.8H237.2" stroke="#0a06dc" stroke-width="2" fill="none"/>
<path d="M232.2 407.5L236.6 415.5L227.8 415.5Z" fill="#0a06dc"/>
<path d="M250.4 417.3V436.2M245.4 417.3H255.4M245.4 436.2H255.4" stroke="#0a06dc" stroke-width="2" fill="none"/>
<path d="M250.4 422.8L254.8 430.8L246.0 430.8Z" fill="#0a06dc"/>
<path d="M268.7 430.4V447.3M263.7 430.4H273.7M263.7 447.3H273.7" stroke="#0a06dc" stroke-width="2" fill="none"/>
<path d="M268.7 434.9L273.1 442.9L264.3 442.9Z" fill="#0a06dc"/>
<path d="M286.9 444.8V461.0M281.9 444.8H291.9M281.9 461.0H291.9" stroke="#0a06dc" stroke-width="2" fill="none"/>
<path d="M286.9 448.9L291.3 456.9L282.5 456.9Z" fill="#0a06dc"/>
<path d="M305.1 465.2V483.2M300.1 465.2H310.1M300.1 483.2H310.1" stroke="#0a06dc" stroke-width="2" fill="none"/>
<path d="M305.1 470.2L309.5 478.2L300.7 478.2Z" fill="#0a06dc"/>
<path d="M323.4 478.6V493.6M318.4 478.6H328.4M318.4 493.6H328.4" stroke="#0a06dc" stroke-width="2" fill="none"/>
<path d="M323.4 482.1L327.8 490.1L319.0 490.1Z" fill="#0a06dc"/>
<path d="M341.6 487.9L346.0 495.9L337.2 495.9Z" fill="#0a06dc"/>
<path d="M359.8 504.6L364.2 512.6L355.4 512.6Z" fill="#0a06dc"/>
<path d="M378.1 507.0L382.5 515.0L373.7 515.0Z" fill="#0a06dc"/>
<path d="M250.8 258.1L255.2 266.3L246.4 266.3Z" fill="#0a06dc"/>
<text x="271" y="266.8" class="lg">WT Core</text>
<rect x="246.5" y="278.7" width="8.6" height="8.6" fill="#0a06dc"/>
<text x="271" y="287.9" class="lg">WT Shell</text>
<path d="M250.8 300.5L255.2 308.8L246.4 308.8Z" fill="#f00a0a"/>
<text x="271" y="309.2" class="lg">diYF Core</text>
<rect x="246.5" y="320.7" width="8.6" height="8.6" fill="#f00a0a"/>
<text x="271" y="329.9" class="lg">diYF Shell</text>
</svg>
</body></html>
